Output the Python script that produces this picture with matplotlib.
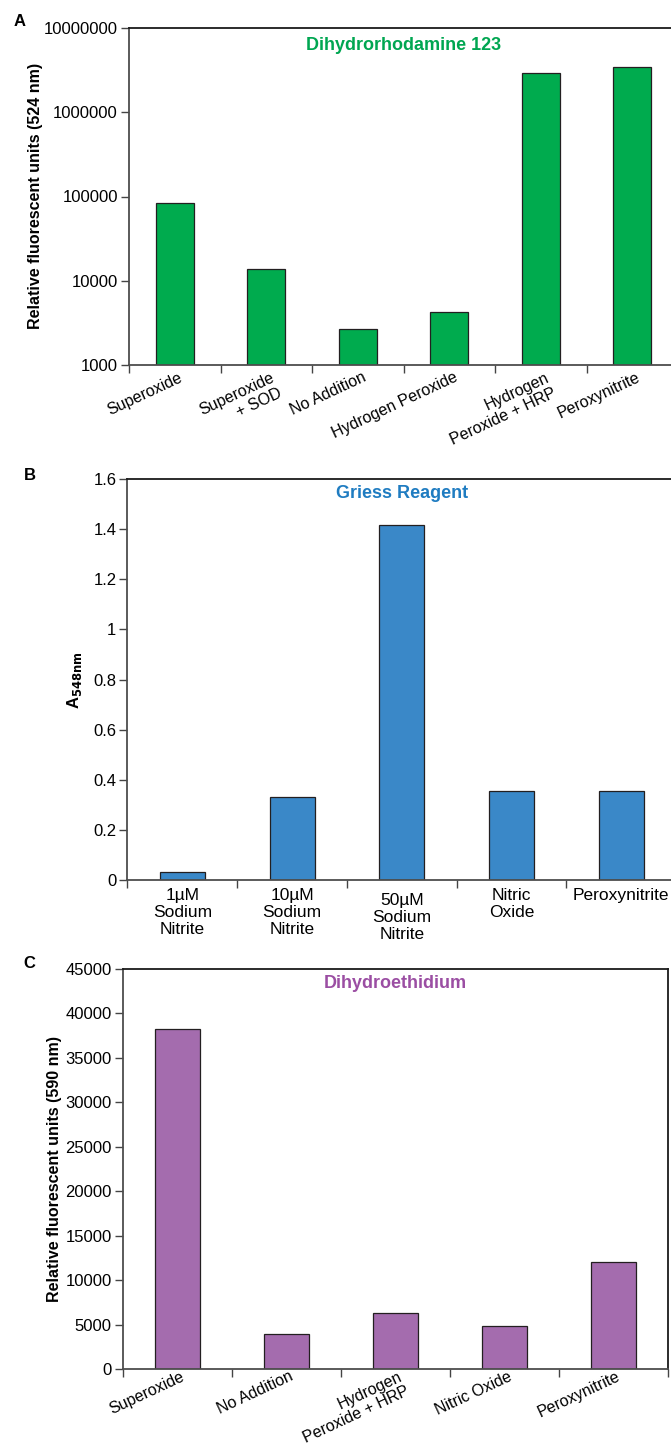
import numpy as np
import matplotlib
matplotlib.use("Agg")
import matplotlib.pyplot as plt
from matplotlib.ticker import FixedLocator, NullFormatter, NullLocator
from matplotlib.transforms import offset_copy

plt.rcParams['font.family'] = ['Liberation Sans', 'DejaVu Sans']

# --- data -------------------------------------------------------------
dhr_labels = ["Superoxide", "Superoxide\n+ SOD", "No Addition", "Hydrogen Peroxide",
              "Hydrogen\nPeroxide + HRP", "Peroxynitrite"]
dhr_values = [84000, 13800, 2650, 4250, 2920000, 3440000]

griess_labels = ["1µM\nSodium\nNitrite", "10µM\nSodium\nNitrite", "50µM\nSodium\nNitrite",
                 "Nitric\nOxide", "Peroxynitrite"]
griess_values = [0.03, 0.33, 1.415, 0.355, 0.355]

dhe_labels = ["Superoxide", "No Addition", "Hydrogen\nPeroxide + HRP", "Nitric Oxide",
              "Peroxynitrite"]
dhe_values = [38300, 3900, 6250, 4800, 12000]

# --- figure -----------------------------------------------------------
W, H = 671, 1443
fig = plt.figure(figsize=(W / 100, H / 100), dpi=100)


def px_axes(left, right, top, bottom):
    return fig.add_axes([left / W, 1 - bottom / H, (right - left) / W, (bottom - top) / H])


def style(ax, n, right_spine=False):
    ax.set_xlim(0, n)
    ax.xaxis.set_major_locator(FixedLocator(np.arange(n + 1)))
    ax.xaxis.set_major_formatter(NullFormatter())
    ax.tick_params(axis='x', length=6, width=1, color='#444444', direction='out')
    ax.tick_params(axis='y', length=6, width=1, color='#444444', labelsize=12, pad=2)
    for s in ('left', 'bottom'):
        ax.spines[s].set_color('#4d4d4d')
        ax.spines[s].set_linewidth(1.3)
    ax.spines['top'].set_color('#1a1a1a')
    ax.spines['top'].set_linewidth(1.3)
    ax.spines['right'].set_visible(right_spine)
    ax.spines['right'].set_color('#1a1a1a')
    ax.spines['right'].set_linewidth(1.3)


def rotated_labels(ax, labels, dx=4, dy=5, size=11.5, spacing=1.2):
    tr = offset_copy(ax.get_xaxis_transform(), fig=fig, x=dx, y=-dy, units='dots')
    for i, lab in enumerate(labels):
        ax.text(i + 0.5, 0, lab, transform=tr, rotation=25, rotation_mode='anchor',
                ha='right', va='top', multialignment='right', fontsize=size,
                linespacing=spacing)


def flat_labels(ax, labels, dy=8, size=12.5, extra=None):
    extra = extra or {}
    for i, lab in enumerate(labels):
        tr = offset_copy(ax.get_xaxis_transform(), fig=fig, x=0, y=-(dy + extra.get(i, 0)),
                         units='dots')
        ax.text(i + 0.5, 0, lab, transform=tr, ha='center', va='top',
                multialignment='center', fontsize=size, linespacing=1.15)


bar_kw = dict(width=0.41, edgecolor='#231f20', linewidth=0.9)

# A: Dihydrorhodamine 123 (log scale)
axA = px_axes(129, 678, 28, 365)
axA.bar(np.arange(6) + 0.5, dhr_values, color='#00ab4e', **bar_kw)
axA.set_yscale('log')
axA.set_ylim(1000, 1e7)
axA.yaxis.set_major_locator(FixedLocator([1e3, 1e4, 1e5, 1e6, 1e7]))
axA.yaxis.set_minor_locator(NullLocator())
axA.set_yticklabels(["1000", "10000", "100000", "1000000", "10000000"])
style(axA, 6)
rotated_labels(axA, dhr_labels)
axA.text(0.5, 0.973, "Dihydrorhodamine 123", transform=axA.transAxes, ha='center', va='top',
         color='#00a651', fontsize=13, fontweight='bold')
fig.text(36 / W, 1 - 196 / H, "Relative fluorescent units (524 nm)", rotation=90,
         ha='center', va='center', fontsize=11.5, fontweight='bold')
fig.text(20 / W, 1 - 22 / H, "A", ha='center', va='center', fontsize=12, fontweight='bold')

# B: Griess Reagent
axB = px_axes(127.5, 676, 479, 880)
axB.bar(np.arange(5) + 0.5, griess_values, color='#3a88c8', **bar_kw)
axB.set_ylim(0, 1.6)
axB.yaxis.set_major_locator(FixedLocator([0, 0.2, 0.4, 0.6, 0.8, 1, 1.2, 1.4, 1.6]))
axB.set_yticklabels(["0", "0.2", "0.4", "0.6", "0.8", "1", "1.2", "1.4", "1.6"])
style(axB, 5)
flat_labels(axB, griess_labels, extra={2: 5})
axB.text(0.5, 0.985, "Griess Reagent", transform=axB.transAxes, ha='center', va='top',
         color='#1f7cc1', fontsize=13, fontweight='bold')
fig.text(74 / W, 1 - 680 / H, r"A$_{\mathbf{548nm}}$", rotation=90,
         ha='center', va='center', fontsize=12, fontweight='bold')
fig.text(30 / W, 1 - 475 / H, "B", ha='center', va='center', fontsize=12, fontweight='bold')

# C: Dihydroethidium
axC = px_axes(123, 668, 969, 1369)
axC.bar(np.arange(5) + 0.5, dhe_values, color='#a46cae', **bar_kw)
axC.set_ylim(0, 45000)
axC.yaxis.set_major_locator(FixedLocator(np.arange(0, 45001, 5000)))
axC.set_yticklabels([str(v) for v in range(0, 45001, 5000)])
style(axC, 5, right_spine=True)
rotated_labels(axC, dhe_labels, dx=3, dy=0, size=11.5, spacing=1.05)
axC.text(0.5, 0.985, "Dihydroethidium", transform=axC.transAxes, ha='center', va='top',
         color='#9b4ea3', fontsize=13, fontweight='bold')
fig.text(55 / W, 1 - 1169 / H, "Relative fluorescent units (590 nm)", rotation=90,
         ha='center', va='center', fontsize=11.5, fontweight='bold')
fig.text(29 / W, 1 - 964 / H, "C", ha='center', va='center', fontsize=12, fontweight='bold')

fig.savefig("out.png", dpi=100)
